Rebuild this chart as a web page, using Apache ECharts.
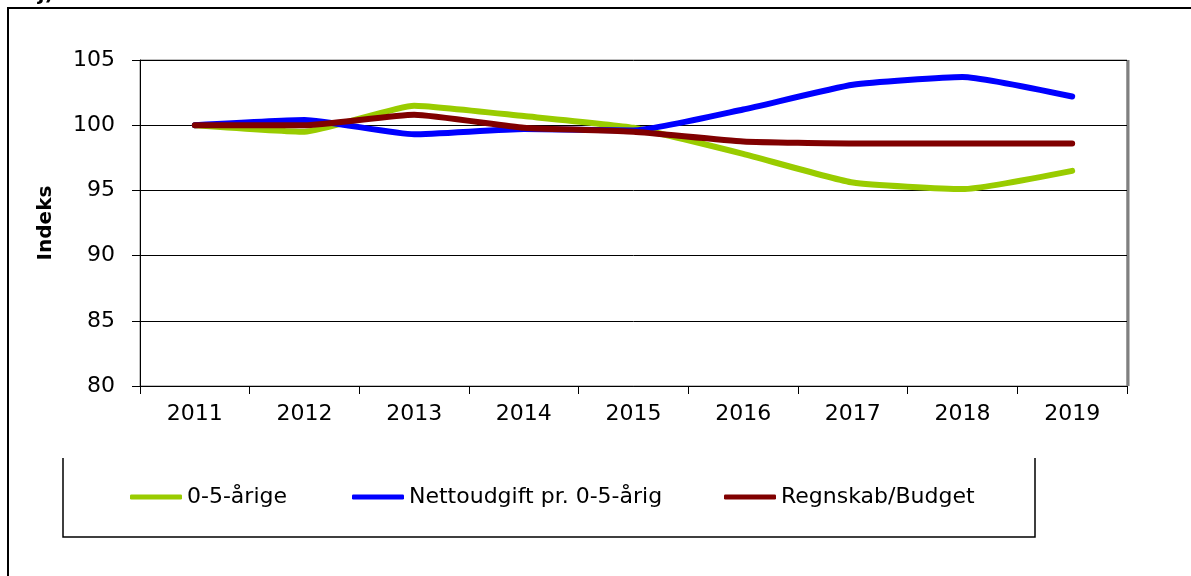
<!DOCTYPE html>
<html>
<head>
<meta charset="utf-8">
<script src="https://cdn.jsdelivr.net/npm/echarts@6/dist/echarts.min.js"></script>
<style>
  html, body { margin: 0; padding: 0; background: #fff; }
  #chart { width: 1191px; height: 576px; }
</style>
</head>
<body>
<div id="chart"></div>
<script>
// index lines, 2011 = 100
const years = ['2011', '2012', '2013', '2014', '2015', '2016', '2017', '2018', '2019'];
const boern = [100, 99.5, 101.5, 100.7, 99.8, 97.8, 95.6, 95.1, 96.5];
const nettoudgift = [100, 100.4, 99.3, 99.7, 99.6, 101.2, 103.1, 103.7, 102.2];
const regnskab = [100, 100.0, 100.8, 99.8, 99.5, 98.75, 98.6, 98.6, 98.6];
const names = ['0-5-årige', 'Nettoudgift pr. 0-5-årig', 'Regnskab/Budget'];

const chart = echarts.init(document.getElementById('chart'), null, { renderer: 'canvas' });

const font = '"DejaVu Sans", Verdana, sans-serif';

function lineSeries(name, data, color) {
    return {
        name: name,
        type: 'line',
        data: data,
        symbol: 'none',
        smooth: 0.15,
        lineStyle: { width: 6, color: color, cap: 'round', join: 'round' },
        itemStyle: { color: color }
    };
}

// one legend per entry so each sits where the original has it
function legendItem(name, left) {
    return {
        data: [name],
        left: left,
        top: 486,
        padding: 0,
        itemWidth: 52,
        itemHeight: 5,
        icon: 'roundRect',
        selectedMode: false,
        textStyle: { color: '#000', fontSize: 22, fontFamily: font }
    };
}

let option = {
    backgroundColor: '#fff',
    animation: false,
    grid: {
        left: 140,
        right: 64,
        top: 60,
        bottom: 190,
        show: true,
        borderColor: '#808080',
        borderWidth: 1
    },
    xAxis: {
        type: 'category',
        data: years,
        boundaryGap: true,
        axisLine: { lineStyle: { color: '#000', width: 1 } },
        axisTick: { show: true, length: 8, lineStyle: { color: '#000' } },
        axisLabel: { color: '#000', fontSize: 22, fontFamily: font, margin: 17 }
    },
    yAxis: {
        type: 'value',
        min: 80,
        max: 105,
        interval: 5,
        name: 'Indeks',
        nameLocation: 'middle',
        nameRotate: 90,
        nameGap: 84,
        nameTextStyle: { color: '#000', fontSize: 20, fontWeight: 'bold', fontFamily: font },
        axisLine: { show: true, lineStyle: { color: '#000', width: 1 } },
        axisTick: { show: true, length: 8, lineStyle: { color: '#000' } },
        axisLabel: { color: '#000', fontSize: 22, fontFamily: font, margin: 25 },
        splitLine: { show: true, lineStyle: { color: '#000', width: 1 } }
    },
    legend: [
        legendItem(names[0], 130),
        legendItem(names[1], 352),
        legendItem(names[2], 724)
    ],
    graphic: [
        // outer frame
        {
            type: 'rect',
            shape: { x: 8, y: 8, width: 1200, height: 600 },
            style: { fill: null, stroke: '#000', lineWidth: 2 }
        },
        // cut-off heading at the very top
        {
            type: 'text',
            left: 0,
            top: -15,
            style: { text: 'radj)', fill: '#000', font: 'bold 20px ' + font }
        },
        // heavier right edge of the plot area
        {
            type: 'line',
            shape: { x1: 1128, y1: 60, x2: 1128, y2: 386 },
            style: { stroke: '#808080', lineWidth: 3 }
        },
        // legend box (open at the top)
        {
            type: 'polyline',
            shape: { points: [[63, 458], [63, 537], [1035, 537], [1035, 458]] },
            style: { fill: null, stroke: '#000', lineWidth: 1.5 }
        }
    ],
    series: [
        lineSeries(names[0], boern, '#99cc00'),
        lineSeries(names[1], nettoudgift, '#0000ff'),
        lineSeries(names[2], regnskab, '#800000')
    ]
};

chart.setOption(option);
</script>
</body>
</html>
